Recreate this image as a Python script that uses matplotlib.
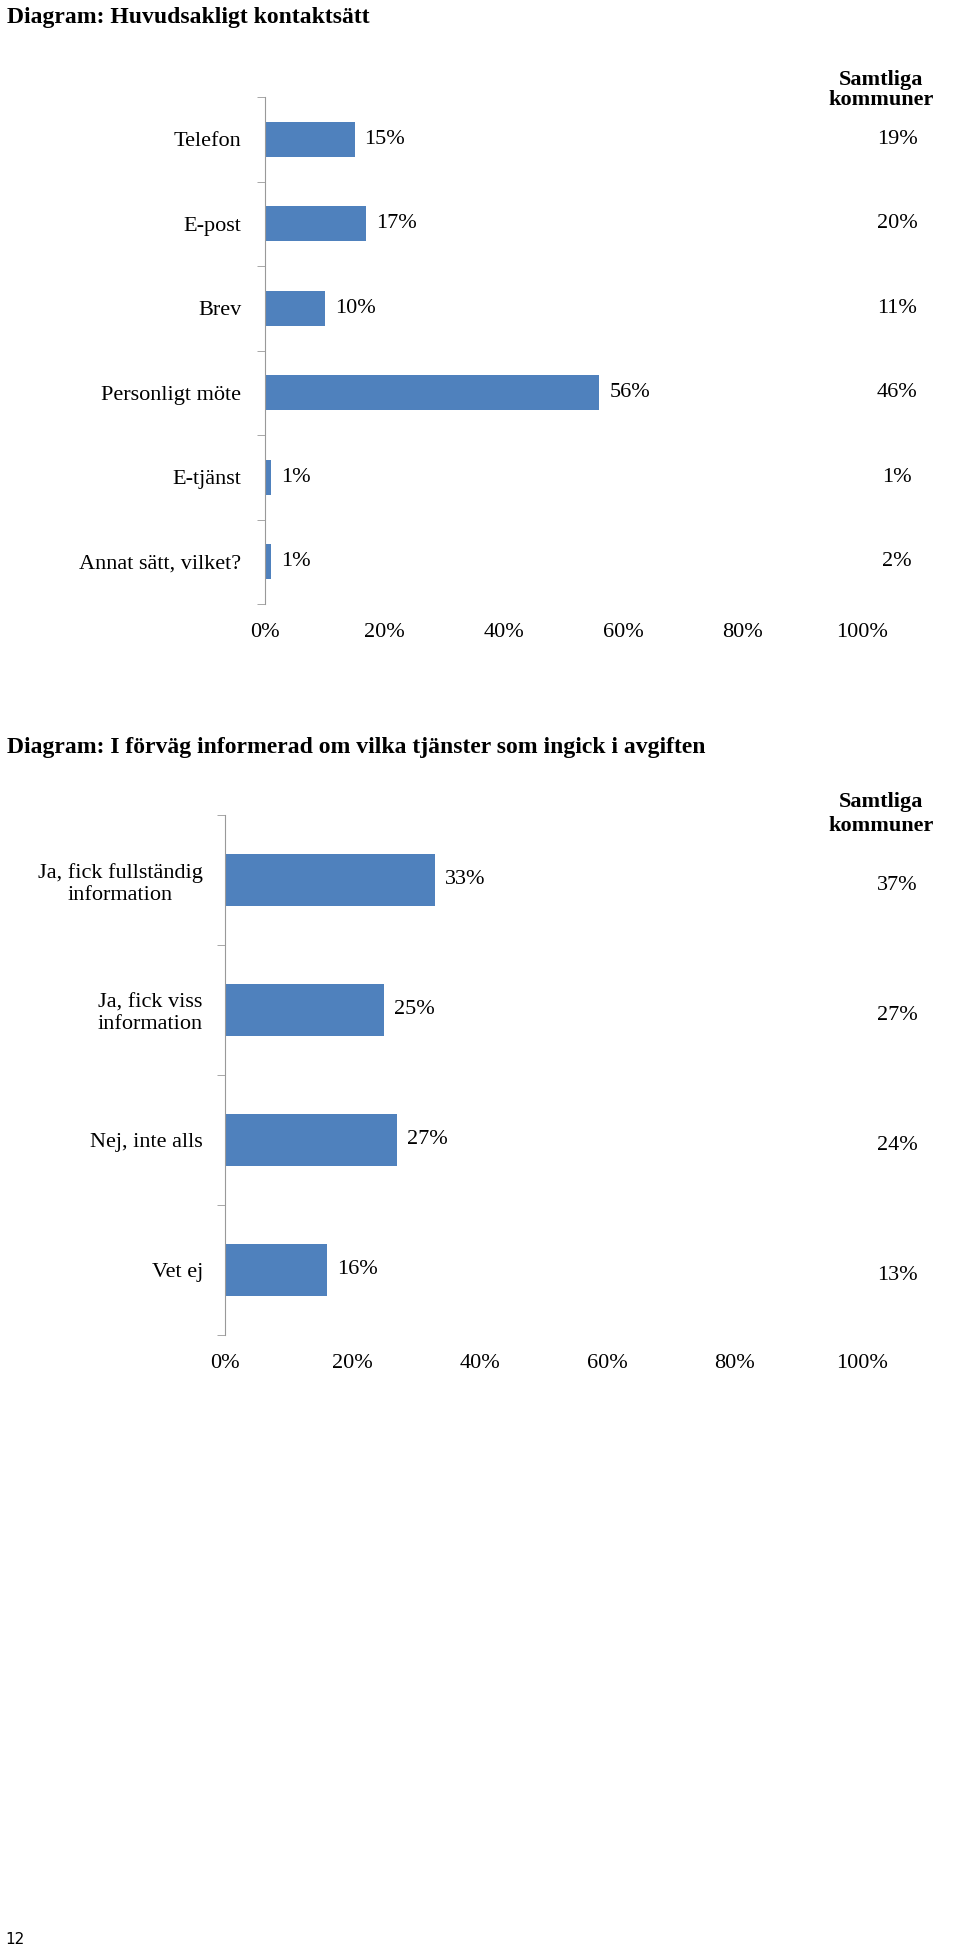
import matplotlib.pyplot as plt
import matplotlib.transforms as mtransforms

plt.rcParams['font.family'] = 'Liberation Serif'
plt.rcParams['font.size'] = 16

# Chart 1 data
cats1 = ['Telefon', 'E-post', 'Brev', 'Personligt möte', 'E-tjänst', 'Annat sätt, vilket?']
vals1 = [15, 17, 10, 56, 1, 1]
all1 = ['19%', '20%', '11%', '46%', '1%', '2%']

# Chart 2 data
cats2 = ['Ja, fick fullständig\ninformation', 'Ja, fick viss\ninformation', 'Nej, inte alls', 'Vet ej']
vals2 = [33, 25, 27, 16]
all2 = ['37%', '27%', '24%', '13%']

xticks = [0, 20, 40, 60, 80, 100]
blue = '#4F81BD'

W, H = 960, 1957
fig = plt.figure(figsize=(W / 100, H / 100), dpi=100)


def make_ax(left, right, top, bottom):
    return fig.add_axes([left / W, 1 - bottom / H, (right - left) / W, (bottom - top) / H])


def draw(ax, cats, vals, allv, height, ylab_pad, right_dy):
    n = len(cats)
    ys = list(range(n))
    ax.barh(ys, vals, height=height, color=blue)
    ax.set_xlim(0, 100)
    ax.set_ylim(n - 0.5, -0.5)
    ax.set_xticks(xticks)
    ax.set_xticklabels([f'{t}%' for t in xticks])
    ax.set_yticks(ys)
    ax.set_yticklabels(cats, ha='right', multialignment='center')
    ax.set_yticks([i - 0.5 for i in range(n + 1)], minor=True)
    ax.tick_params(axis='y', which='major', length=0, pad=ylab_pad)
    ax.tick_params(axis='y', which='minor', length=6, color='#999999')
    ax.tick_params(axis='x', length=0, pad=14)
    for s in ['top', 'right', 'bottom']:
        ax.spines[s].set_visible(False)
    ax.spines['left'].set_color('#999999')
    for y, v in zip(ys, vals):
        ax.annotate(f'{v}%', (v, y), xytext=(10, 0), textcoords='offset pixels',
                    ha='left', va='center')
    tr = mtransforms.blended_transform_factory(fig.transFigure, ax.transData)
    for y, s in zip(ys, allv):
        ax.annotate(s, (897 / W, y), xycoords=tr, xytext=(0, -right_dy),
                    textcoords='offset pixels', ha='center', va='center')


ax1 = make_ax(265, 862, 97, 604)
draw(ax1, cats1, vals1, all1, 0.41, 17, 0)
ax2 = make_ax(225, 862, 815, 1335)
draw(ax2, cats2, vals2, all2, 0.4, 16, 5)

fig.text(7 / W, 1 - 17 / H, 'Diagram: Huvudsakligt kontaktsätt', fontsize=17,
         fontweight='bold', va='center')
fig.text(881 / W, 1 - 90 / H, 'Samtliga\nkommuner', fontweight='bold',
         ha='center', va='center', linespacing=1.0)
fig.text(7 / W, 1 - 747 / H, 'Diagram: I förväg informerad om vilka tjänster som ingick i avgiften',
         fontsize=17, fontweight='bold', va='center')
fig.text(881 / W, 1 - 814 / H, 'Samtliga\nkommuner', fontweight='bold',
         ha='center', va='center', linespacing=1.3)
fig.text(5 / W, 1 - 1940 / H, '12', fontsize=11, family='DejaVu Sans', va='center')

plt.savefig('out.png', dpi=100)
